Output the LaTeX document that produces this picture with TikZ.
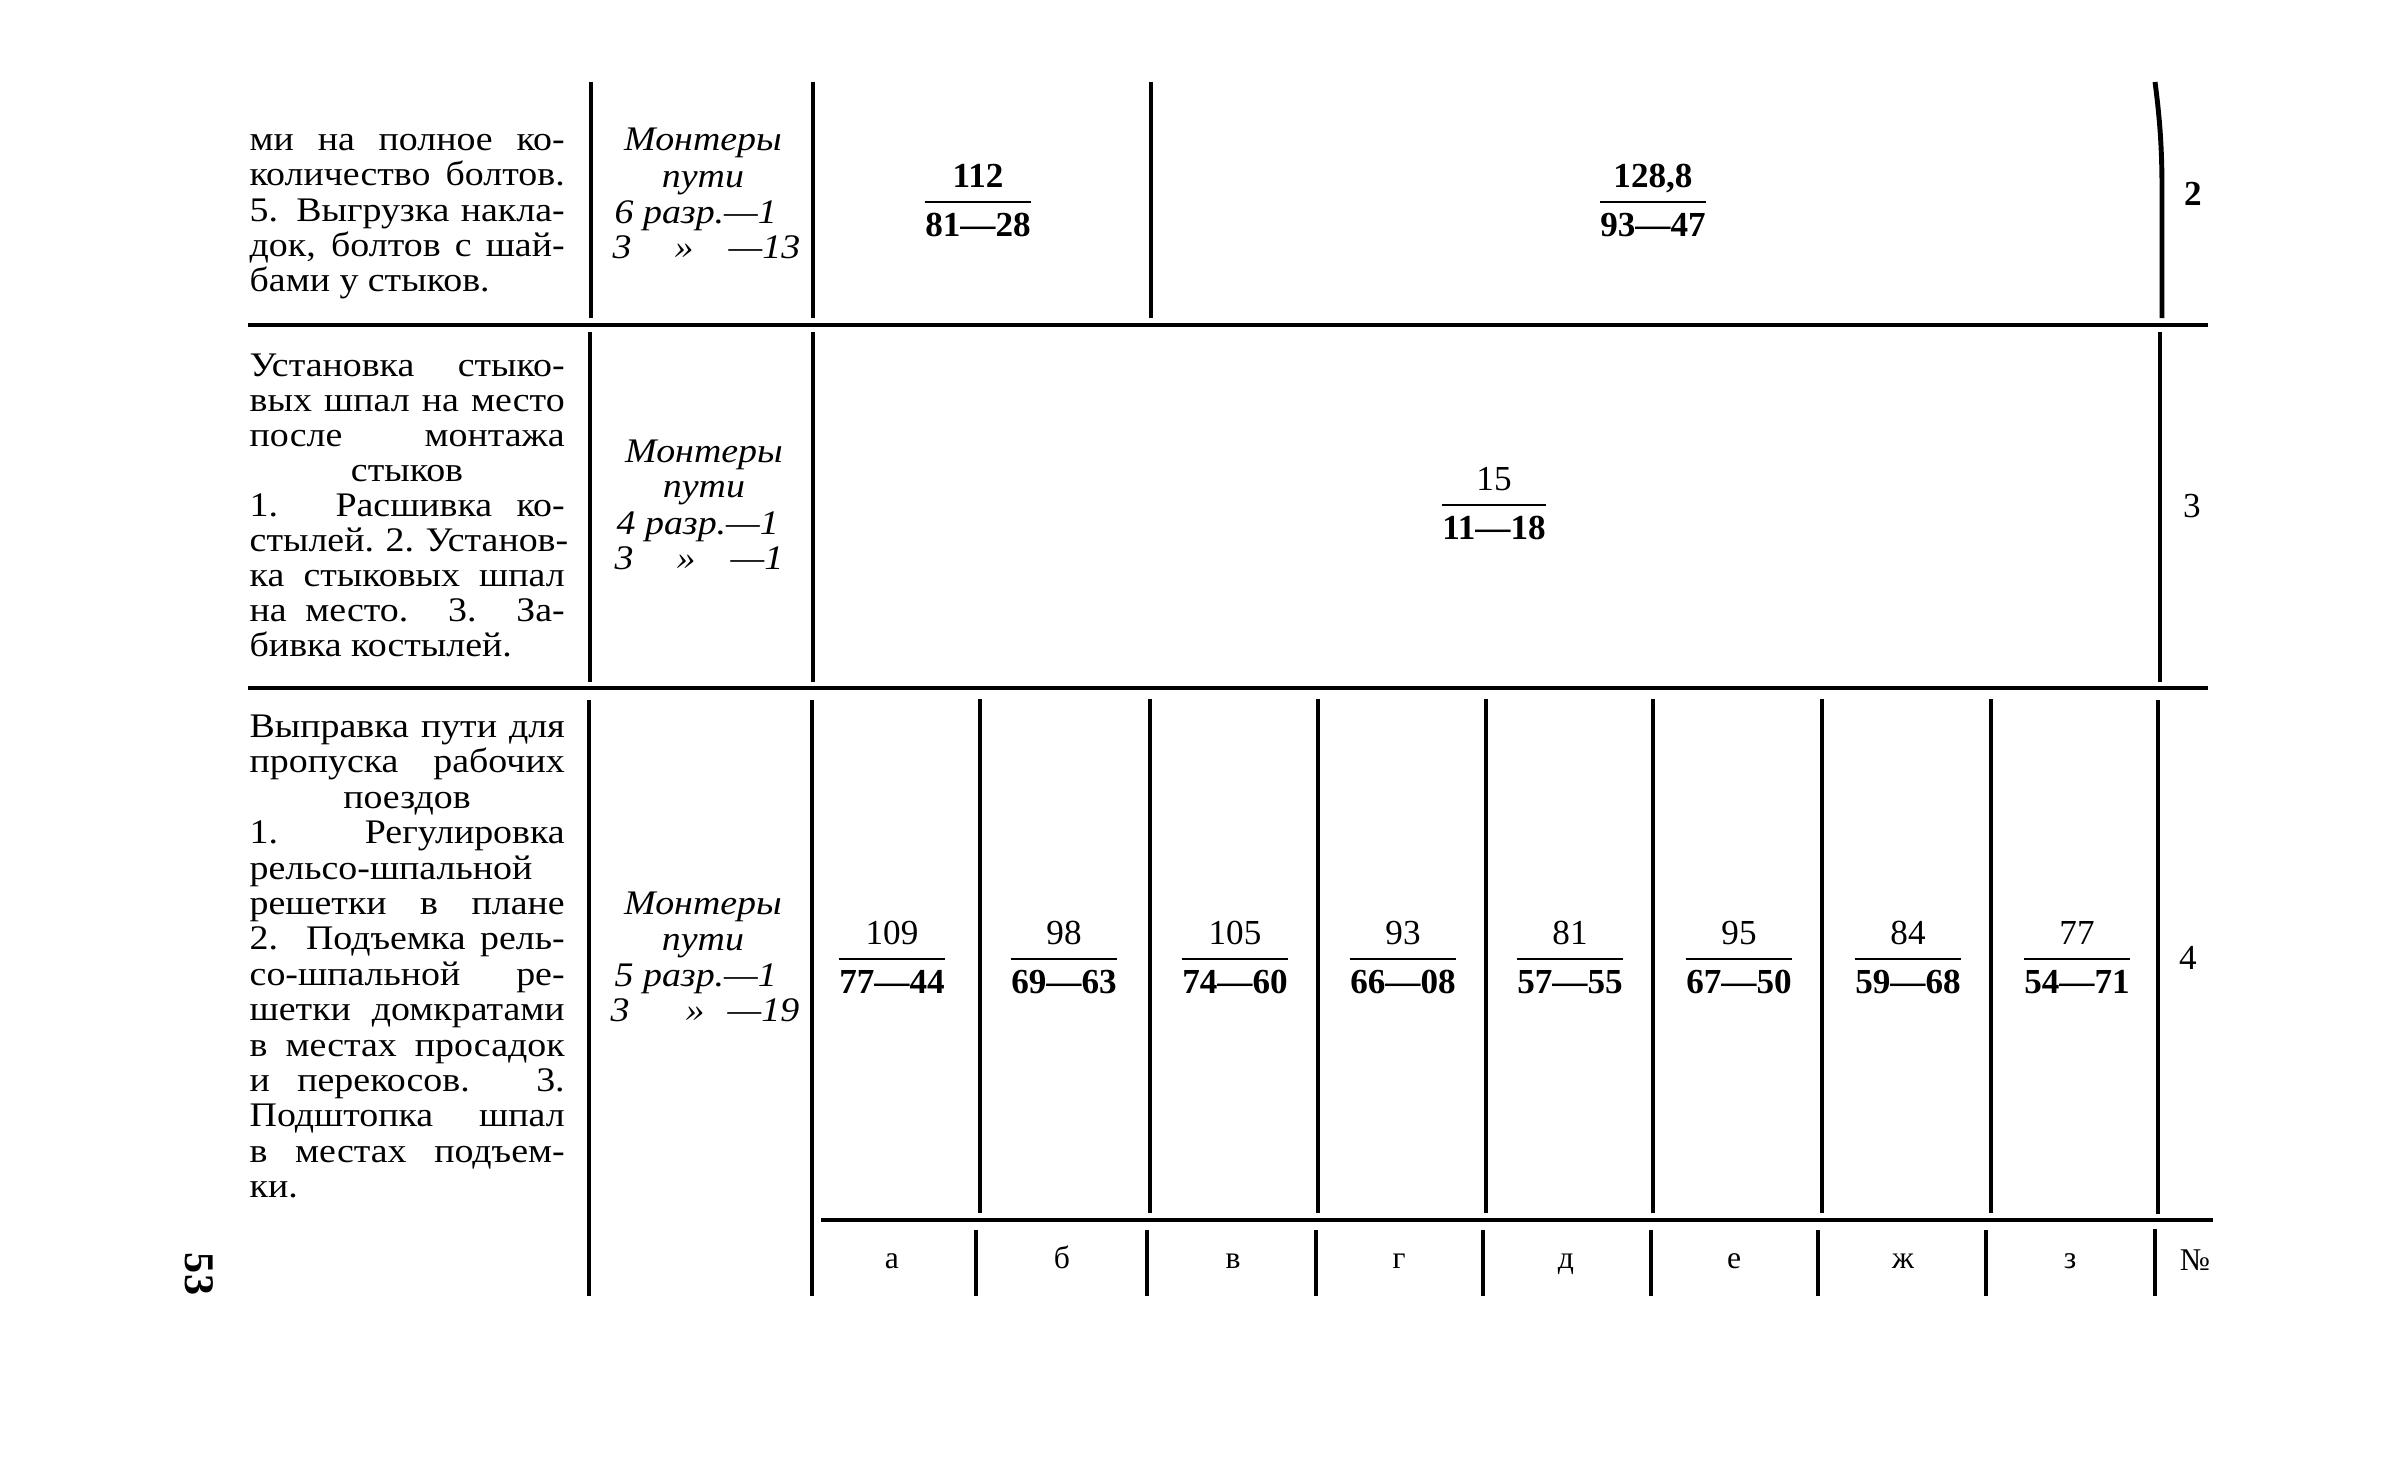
\documentclass[tikz,border=0pt]{standalone}
\usepackage{fontspec}
\setmainfont{Liberation Serif}[FakeStretch=1.1]
\newfontfamily\numfont{Liberation Serif}
\newcommand\txtf{\fontsize{9.8pt}{10pt}\selectfont}
\newcommand\numf{\numfont\fontsize{10pt}{11pt}\selectfont}
\newcommand\JL[3]{\node[tl] (#1) at (249,#2) {\makebox[31.5mm][s]{#3}};}
\newcommand\FR[5]{%
  \node[num] (n#1) at (#2,#3-15) {#4};
  \node[den] (d#1) at (#2,#3+34) {#5};
  \coordinate (r#1) at (#2,#3);
  \draw[fracrule] (d#1.west |- r#1) -- (d#1.east |- r#1);}
\begin{document}
\begin{tikzpicture}[x=0.1mm,y=-0.1mm,
  rule/.style={line width=0.9pt},
  thickrule/.style={line width=1.4pt},
  fracrule/.style={line width=0.6pt},
  tl/.style={anchor=base west,inner sep=0pt,font=\txtf},
  tc/.style={anchor=base,inner sep=0pt,font=\txtf},
  it/.style={anchor=base,inner sep=0pt,font=\txtf\itshape},
  itl/.style={anchor=base west,inner sep=0pt,font=\txtf\itshape},
  num/.style={anchor=base,inner sep=0pt,font=\numf},
  den/.style={anchor=base,inner sep=0pt,font=\numf\bfseries},
  lab/.style={anchor=base,inner sep=0pt,font=\numfont\fontsize{10pt}{12pt}\selectfont},
  blab/.style={anchor=base,inner sep=0pt,font=\numfont\fontsize{9pt}{11pt}\selectfont},
]
\useasboundingbox (0,0) rectangle (2385,1478);

% ---------- rules ----------
\draw[rule] (248,325) -- (2208,325);
\draw[rule] (248,688) -- (2208,688);
\draw[rule] (821,1220) -- (2213,1220);

\draw[rule] (591,82) -- (591,318);
\draw[rule] (590,332) -- (590,682);
\draw[rule] (589,700) -- (589,1296);

\draw[rule] (813,82) -- (813,318);
\draw[rule] (813,332) -- (813,682);
\draw[rule] (812,700) -- (812,1296);

\draw[rule] (1151,82) -- (1151,318);

\draw[thickrule] (2155,82) .. controls (2160,120) and (2162,150) .. (2162,190) -- (2162,318);
\draw[rule] (2160,332) -- (2160,682);
\draw[rule] (2158,700) -- (2158,1214);
\draw[rule] (2155,1229) -- (2155,1296);

\foreach \xx in {980,1150,1318,1486,1653,1822,1991} \draw[rule] (\xx,699) -- (\xx,1213);
\foreach \xx in {976,1147,1316,1483,1651,1818,1986} \draw[rule] (\xx,1230) -- (\xx,1296);

% ---------- row 1 ----------
\JL{r1a}{150}{ми на полное ко-}
\JL{r1b}{185}{количество болтов.}
\JL{r1c}{221}{5. Выгрузка накла-}
\JL{r1d}{256}{док, болтов с шай-}
\node[tl] (r1e) at (249,291) {бами у стыков.};

\node[it] (m1a) at (703,150) {Монтеры};
\node[it] (m1b) at (703,187) {пути};
\node[itl] (m1c) at (614,223) {6 разр.—1};
\node[itl] (m1d) at (612,258) {3};
\node[it] (m1e) at (684,258) {»};
\node[itl] (m1f) at (728,258) {—13};

\FR{a}{978}{202}{\bfseries 112}{81—28}
\FR{b}{1653}{202}{\bfseries 128,8}{93—47}
\node[lab,font=\numfont\bfseries\fontsize{10pt}{12pt}\selectfont] (no2) at (2193,205) {2};

% ---------- row 2 ----------
\JL{r2a}{376}{Установка стыко-}
\JL{r2b}{411}{вых шпал на место}
\JL{r2c}{446}{после монтажа}
\node[tc] (r2d) at (407,481) {стыков};
\JL{r2e}{516}{1. Расшивка ко-}
\JL{r2f}{551}{стылей. 2. Установ-}
\JL{r2g}{586}{ка стыковых шпал}
\JL{r2h}{621}{на место. 3. За-}
\node[tl] (r2i) at (249,656) {бивка костылей.};

\node[it] (m2a) at (704,462) {Монтеры};
\node[it] (m2b) at (704,497) {пути};
\node[itl] (m2c) at (616,534) {4 разр.—1};
\node[itl] (m2d) at (614,569) {3};
\node[it] (m2e) at (686,569) {»};
\node[itl] (m2f) at (730,569) {—1};

\FR{c}{1494}{505}{15}{11—18}
\node[lab] (no3) at (2192,517) {3};

% ---------- row 3 ----------
\JL{r3a}{737}{Выправка пути для}
\JL{r3b}{772}{пропуска рабочих}
\node[tc] (r3c) at (407,808) {поездов};
\JL{r3d}{843}{1. Регулировка}
\node[tl] (r3e) at (249,879) {рельсо-шпальной};
\JL{r3f}{914}{решетки в плане}
\JL{r3g}{949}{2. Подъемка рель-}
\JL{r3h}{985}{со-шпальной ре-}
\JL{r3i}{1020}{шетки домкратами}
\JL{r3j}{1056}{в местах просадок}
\JL{r3k}{1091}{и перекосов. 3.}
\JL{r3l}{1126}{Подштопка шпал}
\JL{r3m}{1162}{в местах подъем-}
\node[tl] (r3n) at (249,1197) {ки.};

\node[it] (m3a) at (703,914) {Монтеры};
\node[it] (m3b) at (703,950) {пути};
\node[itl] (m3c) at (614,986) {5 разр.—1};
\node[itl] (m3d) at (610,1021) {3};
\node[it] (m3e) at (695,1021) {»};
\node[itl] (m3f) at (727,1021) {—19};

\FR{f1}{892}{959}{109}{77—44}
\FR{f2}{1064}{959}{98}{69—63}
\FR{f3}{1235}{959}{105}{74—60}
\FR{f4}{1403}{959}{93}{66—08}
\FR{f5}{1570}{959}{81}{57—55}
\FR{f6}{1739}{959}{95}{67—50}
\FR{f7}{1908}{959}{84}{59—68}
\FR{f8}{2077}{959}{77}{54—71}
\node[lab] (no4) at (2188,969) {4};

% ---------- bottom header ----------
\node[blab] (ca) at (892,1268) {а};
\node[blab] (cb) at (1062,1268) {б};
\node[blab] (cc) at (1233,1268) {в};
\node[blab] (cd) at (1399,1268) {г};
\node[blab] (ce) at (1566,1268) {д};
\node[blab] (cf) at (1734,1268) {е};
\node[blab] (cg) at (1903,1268) {ж};
\node[blab] (ch) at (2070,1268) {з};
\node[blab] (cn) at (2195,1270) {№};

\node[rotate=-90,inner sep=0pt,font=\numfont\bfseries\fontsize{12pt}{14pt}\selectfont] (pg) at (199,1274) {53};
\end{tikzpicture}
\end{document}
